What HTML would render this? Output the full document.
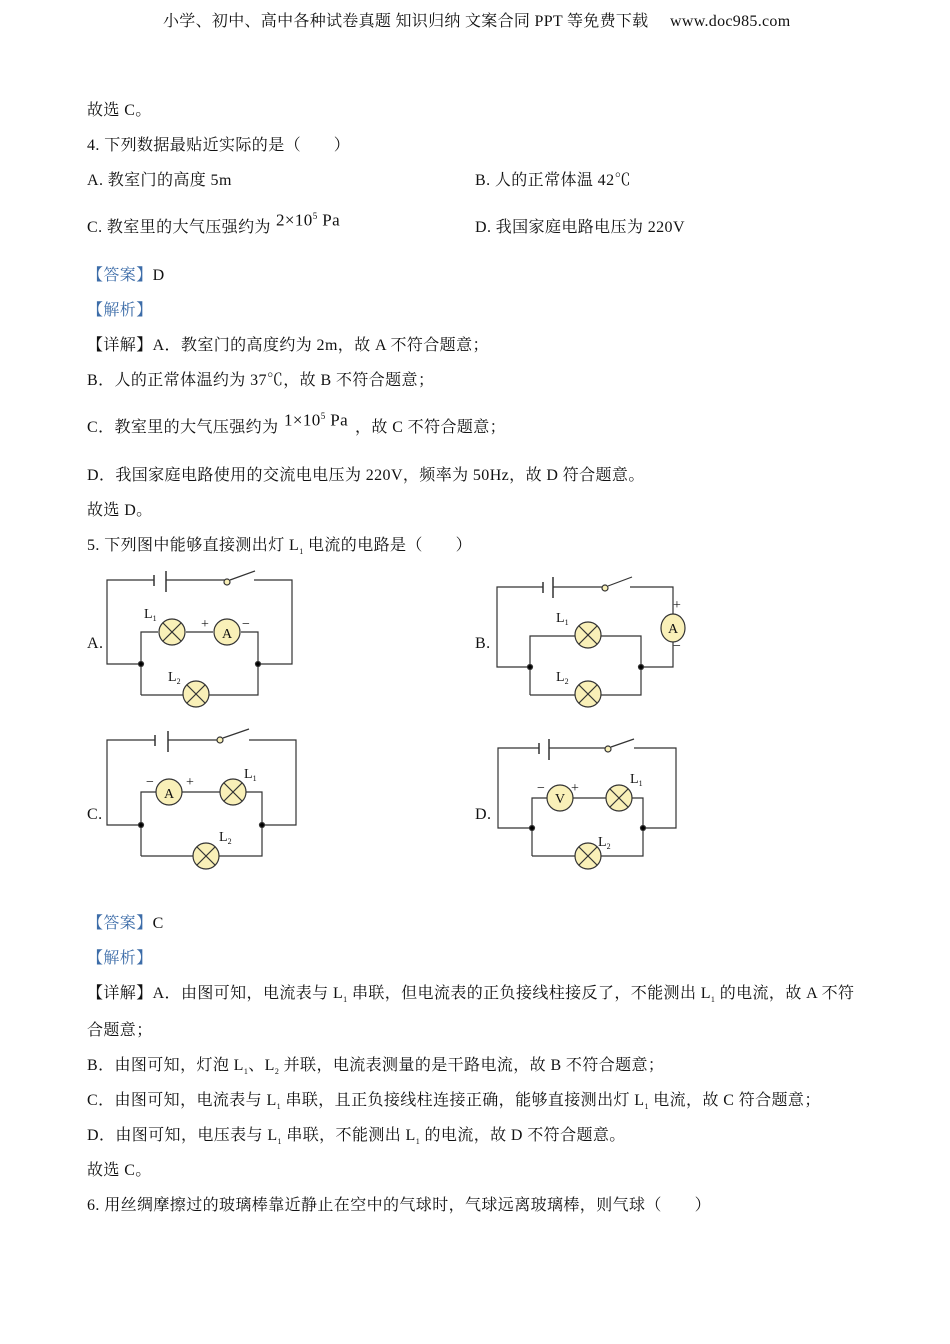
<!DOCTYPE html>
<html><head><meta charset="utf-8"><style>
body{margin:0;width:950px;height:1344px;background:#fff;position:relative;font-family:"Liberation Serif","Noto Serif CJK SC","Noto Sans CJK SC",serif;color:#111;}
.t{position:absolute;font-size:16px;white-space:nowrap;line-height:18px;letter-spacing:0.4px;}
.b{color:#3c6ca8;}
svg{position:absolute;left:0;top:0;}
svg text{font-family:"Liberation Serif",serif;}
</style></head><body>
<div class="t" style="left:163px;top:13px;font-size:16px;letter-spacing:0.3px">小学、初中、高中各种试卷真题  知识归纳  文案合同  PPT 等免费下载 &nbsp; &nbsp; www.doc985.com</div>
<div class="t" style="left:87px;top:102px">故选 C。</div>
<div class="t" style="left:87px;top:137px">4. 下列数据最贴近实际的是（　　）</div>
<div class="t" style="left:87px;top:172px">A. 教室门的高度 5m</div>
<div class="t" style="left:475px;top:172px">B. 人的正常体温 42℃</div>
<div class="t" style="left:87px;top:219px">C. 教室里的大气压强约为</div>
<div class="t" style="left:276px;top:207px;font-size:17px">2×10<sup style="font-size:9px">5</sup> Pa</div>
<div class="t" style="left:475px;top:219px">D. 我国家庭电路电压为 220V</div>
<div class="t" style="left:87px;top:267px"><span class="b">【答案】</span>D</div>
<div class="t" style="left:87px;top:302px"><span class="b">【解析】</span></div>
<div class="t" style="left:87px;top:337px">【详解】A．教室门的高度约为 2m，故 A 不符合题意；</div>
<div class="t" style="left:87px;top:372px">B．人的正常体温约为 37℃，故 B 不符合题意；</div>
<div class="t" style="left:87px;top:419px">C．教室里的大气压强约为</div>
<div class="t" style="left:284px;top:407px;font-size:17px">1×10<sup style="font-size:9px">5</sup> Pa</div>
<div class="t" style="left:355px;top:419px">，故 C 不符合题意；</div>
<div class="t" style="left:87px;top:467px">D．我国家庭电路使用的交流电电压为 220V，频率为 50Hz，故 D 符合题意。</div>
<div class="t" style="left:87px;top:502px">故选 D。</div>
<div class="t" style="left:87px;top:537px">5. 下列图中能够直接测出灯 L<sub style="font-size:8px">1</sub> 电流的电路是（　　）</div>
<div class="t" style="left:87px;top:635px">A.</div>
<div class="t" style="left:475px;top:635px">B.</div>
<div class="t" style="left:87px;top:806px">C.</div>
<div class="t" style="left:475px;top:806px">D.</div>
<div class="t" style="left:87px;top:915px"><span class="b">【答案】</span>C</div>
<div class="t" style="left:87px;top:950px"><span class="b">【解析】</span></div>
<div class="t" style="left:87px;top:985px">【详解】A．由图可知，电流表与 L<sub style="font-size:8px">1</sub> 串联，但电流表的正负接线柱接反了，不能测出 L<sub style="font-size:8px">1</sub> 的电流，故 A 不符</div>
<div class="t" style="left:87px;top:1022px">合题意；</div>
<div class="t" style="left:87px;top:1057px">B．由图可知，灯泡 L<sub style="font-size:8px">1</sub>、L<sub style="font-size:8px">2</sub> 并联，电流表测量的是干路电流，故 B 不符合题意；</div>
<div class="t" style="left:87px;top:1092px">C．由图可知，电流表与 L<sub style="font-size:8px">1</sub> 串联，且正负接线柱连接正确，能够直接测出灯 L<sub style="font-size:8px">1</sub> 电流，故 C 符合题意；</div>
<div class="t" style="left:87px;top:1127px">D．由图可知，电压表与 L<sub style="font-size:8px">1</sub> 串联，不能测出 L<sub style="font-size:8px">1</sub> 的电流，故 D 不符合题意。</div>
<div class="t" style="left:87px;top:1162px">故选 C。</div>
<div class="t" style="left:87px;top:1197px">6. 用丝绸摩擦过的玻璃棒靠近静止在空中的气球时，气球远离玻璃棒，则气球（　　）</div>

<svg width="950" height="1344" viewBox="0 0 950 1344" fill="none" stroke="#333" stroke-width="1.2">
<defs>
<g id="lamp"><ellipse cx="0" cy="0" rx="13" ry="13" fill="#f9f0b8" stroke="#333"/><line x1="-9" y1="-9" x2="9" y2="9"/><line x1="-9" y1="9" x2="9" y2="-9"/></g>
</defs>
<!-- A -->
<polyline points="154,580 107,580 107,664 141,664"/>
<polyline points="166,580 227,580"/>
<polyline points="254,580 292,580 292,664 258,664"/>
<line x1="154" y1="575" x2="154" y2="586" stroke-width="1.5"/><line x1="166" y1="571" x2="166" y2="592" stroke-width="1.5"/>
<circle cx="227" cy="582" r="3" fill="#f9f0b8"/><line x1="230" y1="580" x2="255" y2="571"/>
<polyline points="141,695 141,632 158,632"/><line x1="186" y1="632" x2="213" y2="632"/><polyline points="241,632 258,632 258,695 141,695"/>
<use href="#lamp" x="172" y="632"/><use href="#lamp" x="196" y="694"/>
<ellipse cx="227" cy="632" rx="13" ry="13" fill="#f9f0b8"/>
<circle cx="141" cy="664" r="2.5" fill="#000"/><circle cx="258" cy="664" r="2.5" fill="#000"/>
<!-- B -->
<polyline points="543,587 497,587 497,667 530,667"/>
<polyline points="553,587 605,587"/>
<polyline points="630,587 673,587 673,614"/><polyline points="673,642 673,667 641,667"/>
<line x1="543" y1="582" x2="543" y2="593" stroke-width="1.5"/><line x1="553" y1="577" x2="553" y2="598" stroke-width="1.5"/>
<circle cx="605" cy="588" r="3" fill="#f9f0b8"/><line x1="608" y1="586" x2="632" y2="577"/>
<polyline points="530,695 530,636 641,636 641,695 530,695"/>
<use href="#lamp" x="588" y="635"/><use href="#lamp" x="588" y="694"/>
<ellipse cx="673" cy="628" rx="12" ry="14" fill="#f9f0b8"/>
<circle cx="530" cy="667" r="2.5" fill="#000"/><circle cx="641" cy="667" r="2.5" fill="#000"/>
<!-- C -->
<polyline points="155,740 107,740 107,825 141,825"/>
<polyline points="168,740 217,740"/>
<polyline points="249,740 296,740 296,825 262,825"/>
<line x1="155" y1="735" x2="155" y2="746" stroke-width="1.5"/><line x1="168" y1="731" x2="168" y2="752" stroke-width="1.5"/>
<circle cx="220" cy="740" r="3" fill="#f9f0b8"/><line x1="223" y1="738" x2="249" y2="729"/>
<polyline points="141,856 141,792 262,792 262,856 141,856"/>
<ellipse cx="169" cy="792" rx="13" ry="13" fill="#f9f0b8"/>
<use href="#lamp" x="233" y="792"/><use href="#lamp" x="206" y="856"/>
<circle cx="141" cy="825" r="2.5" fill="#000"/><circle cx="262" cy="825" r="2.5" fill="#000"/>
<!-- D -->
<polyline points="539,748 498,748 498,828 532,828"/>
<polyline points="549,748 605,748"/>
<polyline points="634,748 676,748 676,828 643,828"/>
<line x1="539" y1="743" x2="539" y2="754" stroke-width="1.5"/><line x1="549" y1="739" x2="549" y2="760" stroke-width="1.5"/>
<circle cx="608" cy="749" r="3" fill="#f9f0b8"/><line x1="611" y1="747" x2="634" y2="739"/>
<polyline points="532,856 532,798 643,798 643,856 532,856"/>
<ellipse cx="560" cy="798" rx="13" ry="13" fill="#f9f0b8"/>
<use href="#lamp" x="619" y="798"/><use href="#lamp" x="588" y="856"/>
<circle cx="532" cy="828" r="2.5" fill="#000"/><circle cx="643" cy="828" r="2.5" fill="#000"/>
<g fill="#111" stroke="none" font-size="14">
<text x="144" y="618">L<tspan font-size="8" dy="3">1</tspan></text>
<text x="168" y="681">L<tspan font-size="8" dy="3">2</tspan></text>
<text x="227" y="638" text-anchor="middle">A</text>
<text x="201" y="628">+</text><text x="242" y="628">−</text>
<text x="556" y="622">L<tspan font-size="8" dy="3">1</tspan></text>
<text x="556" y="681">L<tspan font-size="8" dy="3">2</tspan></text>
<text x="673" y="633" text-anchor="middle">A</text>
<text x="673" y="609">+</text><text x="673" y="650">−</text>
<text x="169" y="798" text-anchor="middle">A</text>
<text x="146" y="786">−</text><text x="186" y="786">+</text>
<text x="244" y="778">L<tspan font-size="8" dy="3">1</tspan></text>
<text x="219" y="841">L<tspan font-size="8" dy="3">2</tspan></text>
<text x="560" y="803" text-anchor="middle">V</text>
<text x="537" y="792">−</text><text x="571" y="792">+</text>
<text x="630" y="783">L<tspan font-size="8" dy="3">1</tspan></text>
<text x="598" y="846">L<tspan font-size="8" dy="3">2</tspan></text>
</g>
</svg>
</body></html>
